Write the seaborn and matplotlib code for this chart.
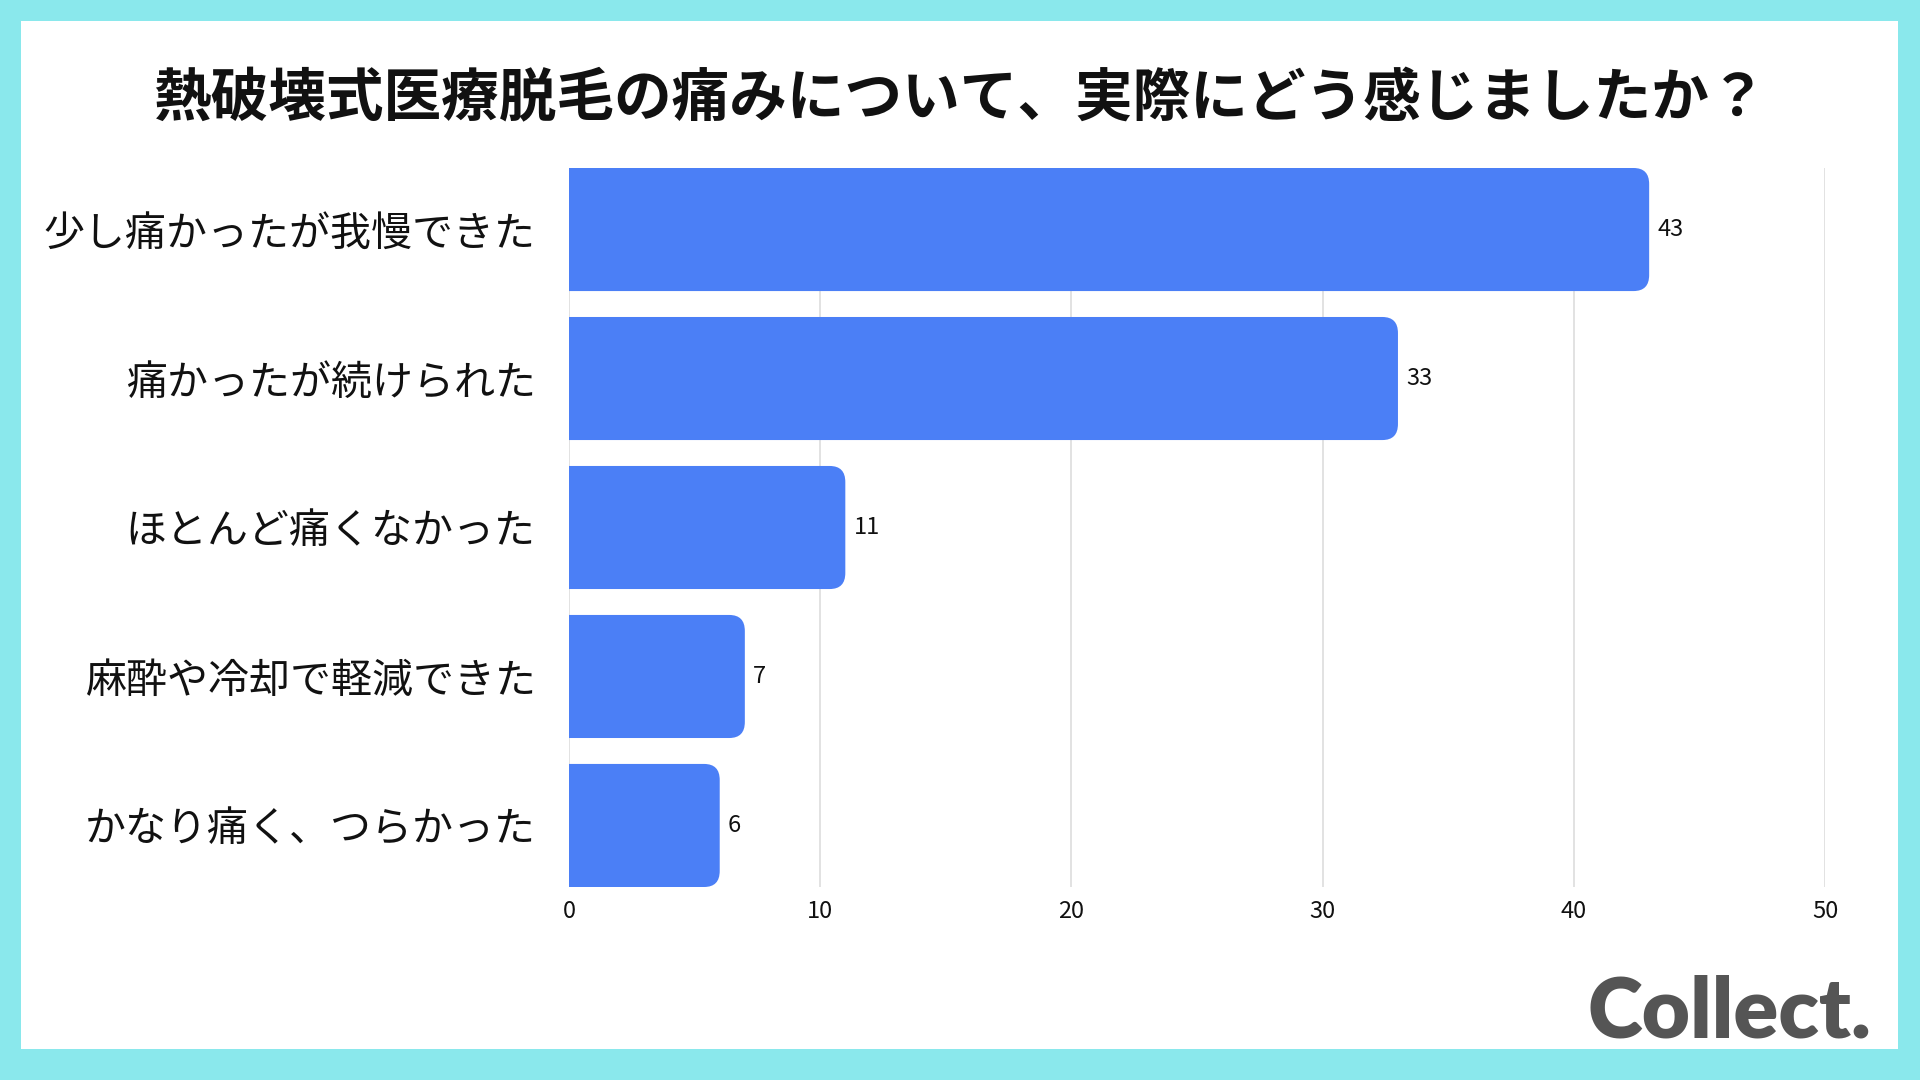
import matplotlib
matplotlib.use("Agg")
import matplotlib.pyplot as plt
from matplotlib.patches import FancyBboxPatch
import seaborn as sns
import pandas as pd

categories = ["少し痛かったが我慢できた", "痛かったが続けられた", "ほとんど痛くなかった",
              "麻酔や冷却で軽減できた", "かなり痛く、つらかった"]
values = [43, 33, 11, 7, 6]
x_ticks = [0, 10, 20, 30, 40, 50]
title = "熱破壊式医療脱毛の痛みについて、実際にどう感じましたか？"
logo = "Collect."

BAR = "#4B7FF6"
CYAN = "#8AE8EC"

sns.set_theme(style="white")
plt.rcParams['font.family'] = ['Noto Sans CJK JP', 'DejaVu Sans']

W, H = 1920, 1080
fig = plt.figure(figsize=(19.2, 10.8), dpi=100)
fig.patch.set_facecolor(CYAN)

# white panel
bg = fig.add_axes([21 / W, 1 - 1049 / H, (1898 - 21) / W, (1049 - 21) / H], zorder=0)
bg.set_facecolor("white")
bg.set_xticks([]); bg.set_yticks([])
for s in bg.spines.values():
    s.set_visible(False)

ax = fig.add_axes([569 / W, 1 - 887 / H, (1825 - 569) / W, (887 - 168) / H], zorder=1)
ax.patch.set_alpha(0)

df = pd.DataFrame({"cat": categories, "val": values})
sns.barplot(data=df, x="val", y="cat", orient="h", color=BAR, width=0.826, ax=ax,
            saturation=1)

ax.set_xlim(0, 50)
ax.set_ylim(len(categories) - 1 + 0.413, -0.413)

# rounded right ends
rx = 0.62                       # data x units (~16px)
ry = 16 / 148.75                # data y units
for p in ax.patches:
    x0, y0 = p.get_x(), p.get_y()
    w, h = p.get_width(), p.get_height()
    p.set_visible(False)
    fb = FancyBboxPatch((x0 - 2 * rx, y0), w + 2 * rx, h,
                        boxstyle=f"round,pad=0,rounding_size={rx}",
                        mutation_aspect=ry / rx,
                        facecolor=BAR, edgecolor="none", zorder=3)
    ax.add_patch(fb)

ax.bar_label(ax.containers[0], labels=[str(v) for v in values], padding=6,
             fontsize=17, color="#111111", family=['Noto Sans CJK JP', 'DejaVu Sans'])

ax.set_xticks(x_ticks)
ax.set_xticklabels([str(t) for t in x_ticks])
ax.xaxis.grid(True, color="#DDDDDD", linewidth=1.2, zorder=0)
ax.set_axisbelow(True)
ax.tick_params(axis="x", length=0, pad=9, labelsize=17, labelcolor="#111111")
ax.tick_params(axis="y", length=0, pad=24, labelsize=29.5, labelcolor="#111111")
ax.set_xlabel(""); ax.set_ylabel("")
for s in ax.spines.values():
    s.set_visible(False)

fig.text(0.5, 1 - 99 / H, title, ha="center", va="center", fontsize=41.5,
         fontweight="bold", color="#111111")

fig.text(1871 / W, 1 - 1013 / H, logo, ha="right", va="center", fontsize=60,
         fontweight="heavy", color="#555555", family=["Lato", "DejaVu Sans"])

fig.savefig("out.png", dpi=100, facecolor=fig.get_facecolor())
